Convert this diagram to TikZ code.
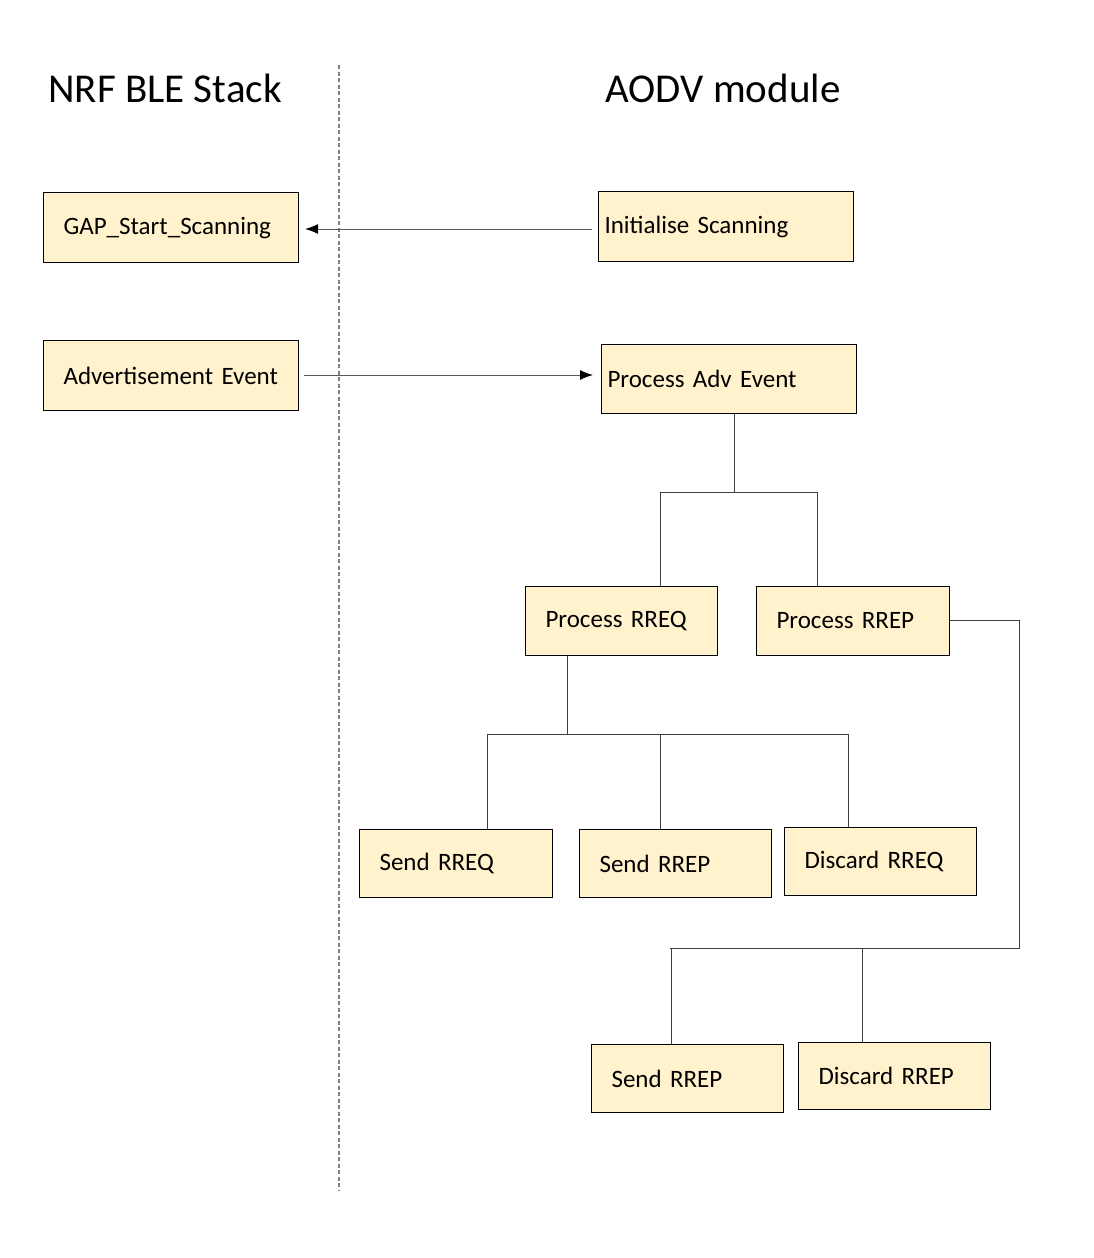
\documentclass[tikz,border=0pt]{standalone}
\usepackage{fontspec}
\setmainfont{Carlito}
\usepackage{tikz}
\usetikzlibrary{arrows.meta}
\definecolor{boxFill}{HTML}{FFF2CC}
\definecolor{lineGray}{HTML}{5A5A5A}

\tikzset{
    procbox/.style={draw=black, line width=1.1pt, fill=boxFill, anchor=north west,
        minimum height=#1, inner xsep=20pt, inner ysep=0pt, align=left,
        font=\fontsize{25}{30}\selectfont},
    procbox/.default=69pt,
    msgline/.style={lineGray, line width=1pt, -{Latex[length=13pt,width=10pt,black]}},
    treeline/.style={black!75, line width=1pt}
}

\begin{document}
\begin{tikzpicture}[x=1pt, y=-1pt]
    \useasboundingbox (0,0) rectangle (1094,1258);
    % lane titles and divider
    \node[font=\fontsize{41}{49}\selectfont] (nrftitle) at (165,88) {NRF BLE Stack};
    \node[font=\fontsize{41}{49}\selectfont] (aodvtitle) at (723,88) {AODV module};
    \draw[gray, line width=1.2pt, dash pattern=on 4pt off 2.5pt] (339,65) -- (339,1190);
    % NRF BLE stack side
    \node[procbox=70pt, text width=215pt] (gapscan) at (43,192) {GAP\_Start\_Scanning};
    \node[procbox=70pt, text width=215pt] (advevent) at (43,340) {Advertisement Event};
    % AODV side
    \node[procbox=70pt, inner xsep=6pt, text width=243pt] (initscan) at (598,191) {Initialise Scanning};
    \node[procbox=69pt, inner xsep=6pt, text width=243pt] (procadv) at (601,344) {Process Adv Event};
    \node[procbox, text width=152pt] (procrreq) at (525,586) {Process RREQ};
    \node[procbox, text width=153pt] (procrrep) at (756,586) {Process RREP};
    \node[procbox=68pt, text width=153pt] (sendrreq) at (359,829) {Send RREQ};
    \node[procbox=68pt, text width=152pt] (sendrrep) at (579,829) {Send RREP};
    \node[procbox=68pt, text width=152pt] (discrreq) at (784,827) {Discard RREQ};
    \node[procbox=68pt, text width=152pt] (sendrrepb) at (591,1044) {Send RREP};
    \node[procbox=67pt, text width=152pt] (discrrep) at (798,1042) {Discard RREP};
    % messages across the divider
    \draw[msgline] ([xshift=-6pt]initscan.west |- 0,229) -- ([xshift=6pt]gapscan.east |- 0,229);
    \draw[msgline] ([xshift=5pt]advevent.east |- 0,375) -- ([xshift=-8pt]procadv.west |- 0,375);
    % tree under Process Adv Event
    \coordinate (advfork) at (734,492);
    \coordinate (advbusL) at (660,492);
    \coordinate (advbusR) at (817,492);
    \draw[treeline] (procadv.south -| advfork) -- (advfork);
    \draw[treeline] (advbusL) -- (advbusR);
    \draw[treeline] (advbusL) -- (procrreq.north -| advbusL);
    \draw[treeline] (advbusR) -- (procrrep.north -| advbusR);
    % tree under Process RREQ
    \coordinate (reqfork) at (567,734);
    \coordinate (reqbusL) at (487,734);
    \coordinate (reqbusM) at (660,734);
    \coordinate (reqbusR) at (848,734);
    \draw[treeline] (procrreq.south -| reqfork) -- (reqfork);
    \draw[treeline] (reqbusL) -- (reqbusR);
    \draw[treeline] (reqbusL) -- (sendrreq.north -| reqbusL);
    \draw[treeline] (reqbusM) -- (sendrrep.north -| reqbusM);
    \draw[treeline] (reqbusR) -- (discrreq.north -| reqbusR);
    % tree from Process RREP
    \coordinate (repturn) at (1019,620);
    \coordinate (repfork) at (1019,948);
    \coordinate (repbusL) at (671,948);
    \coordinate (repbusM) at (862,948);
    \draw[treeline] (procrrep.east |- repturn) -- (repturn) -- (repfork);
    \draw[treeline] ([xshift=1pt]repfork) -- ([xshift=-1pt]repbusL);
    \draw[treeline] (repbusL) -- (sendrrepb.north -| repbusL);
    \draw[treeline] (repbusM) -- (discrrep.north -| repbusM);
\end{tikzpicture}
\end{document}
